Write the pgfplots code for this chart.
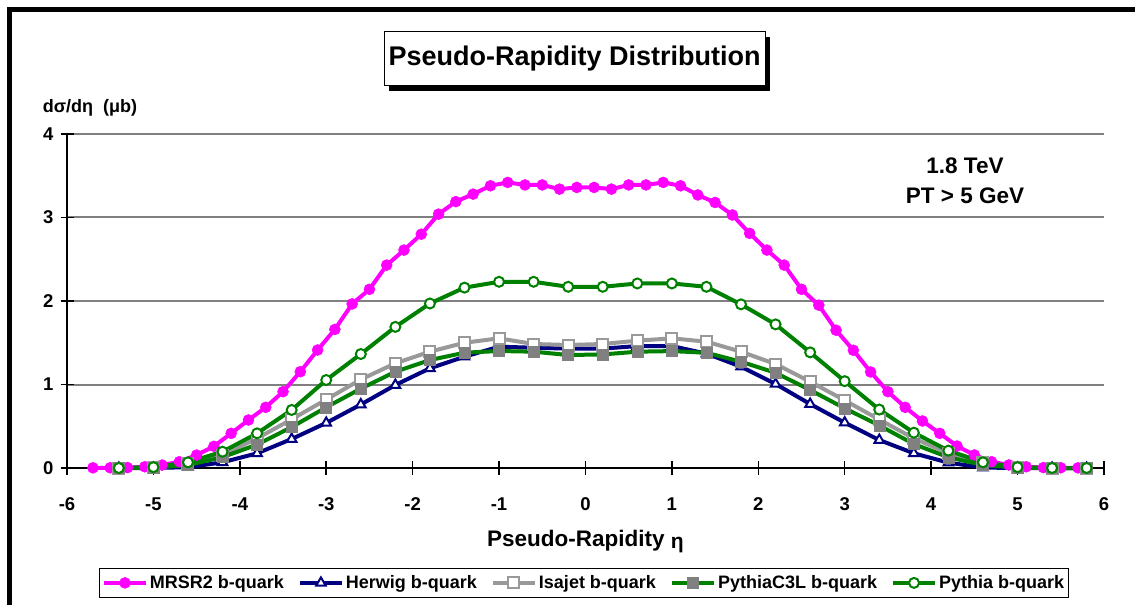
\documentclass[border=0pt]{standalone}
\usepackage{fontspec}
\setmainfont{Liberation Sans}
\usepackage{pgfplots}
\pgfplotsset{compat=1.18}
\usetikzlibrary{shadows}
\definecolor{mag}{RGB}{255,0,255}
\definecolor{navy}{RGB}{0,0,128}
\definecolor{grayS}{RGB}{153,153,153}
\definecolor{grayF}{RGB}{128,128,128}
\definecolor{grn}{RGB}{0,128,0}
\begin{document}
\begin{tikzpicture}[x=1pt,y=1pt]
\useasboundingbox (0,0) rectangle (1135,605);
\draw[line width=5pt] (9.5,0) -- (9.5,595.5) -- (1135,595.5);
\begin{axis}[
  at={(67pt,137pt)}, anchor=south west, scale only axis,
  width=1037pt, height=334pt,
  xmin=-6, xmax=6, ymin=0, ymax=4,
  xtick={-6,-5,-4,-3,-2,-1,0,1,2,3,4,5,6},
  xticklabels={-6,-5,-4,-3,-2,-1,0,1,2,3,4,5,6},
  ytick={0,1,2,3,4}, yticklabels={0,1,2,3,4},
  axis x line*=bottom, axis y line*=left,
  axis line style={line width=1.5pt, black},
  tick style={line width=1.5pt, black},
  tick align=center,
  xtick style={/pgfplots/major tick length=14pt},
  ytick style={/pgfplots/major tick length=13pt},
  ymajorgrids, grid style={line width=2pt, color=grayF},
  ticklabel style={font=\fontsize{18.5}{20}\selectfont\bfseries},
  xticklabel style={yshift=-24pt},
  yticklabel style={xshift=-8pt},
  xlabel={Pseudo-Rapidity {\fontsize{21}{22}\selectfont\raisebox{-2pt}{η}}},
  xlabel style={at={(axis description cs:0.5,-0.22)}, anchor=center, font=\fontsize{22.5}{24}\selectfont\bfseries},
  clip=false,
  legend columns=5,
  legend style={at={(axis description cs:0.4986,-0.344)}, anchor=center,
    draw=black, line width=1pt, font=\fontsize{18}{20}\selectfont\bfseries,
    inner xsep=2pt, inner ysep=5pt,
    /tikz/every even column/.append style={column sep=12pt}},
  legend image code/.code={\draw[mark repeat=2, mark phase=2, #1] plot coordinates {(0pt,0pt) (21pt,0pt) (42pt,0pt)};},
]
\addplot[color=mag, line width=4pt, mark=*, mark size=5.5pt, mark options={fill=mag, draw=mag, line width=0.5pt}] coordinates {
(-5.7,0.002)(-5.5,0.003)(-5.3,0.005)(-5.1,0.015)(-4.9,0.035)(-4.7,0.075)(-4.5,0.155)(-4.3,0.26)(-4.1,0.415)(-3.9,0.575)
(-3.7,0.727)(-3.5,0.914)(-3.3,1.153)(-3.1,1.413)(-2.9,1.66)(-2.7,1.965)(-2.5,2.14)(-2.3,2.43)(-2.1,2.61)(-1.9,2.80)
(-1.7,3.04)(-1.5,3.19)(-1.3,3.28)(-1.1,3.38)(-0.9,3.42)(-0.7,3.39)(-0.5,3.39)(-0.3,3.34)(-0.1,3.36)
(0.1,3.36)(0.3,3.34)(0.5,3.39)(0.7,3.39)(0.9,3.42)(1.1,3.38)(1.3,3.27)(1.5,3.18)(1.7,3.03)(1.9,2.81)
(2.1,2.61)(2.3,2.43)(2.5,2.14)(2.7,1.95)(2.9,1.65)(3.1,1.41)(3.3,1.15)(3.5,0.914)(3.7,0.727)(3.9,0.563)
(4.1,0.415)(4.3,0.263)(4.5,0.156)(4.7,0.075)(4.9,0.036)(5.1,0.015)(5.3,0.005)(5.5,0.003)(5.7,0.002)};
\addlegendentry{MRSR2 b-quark}
\addplot[color=navy, line width=4pt, mark=triangle*, mark size=5.5pt, mark options={fill=white, draw=navy, line width=2pt}] coordinates {
(-5.4,0)(-5.0,0.0)(-4.6,0.01)(-4.2,0.068)(-3.8,0.176)(-3.4,0.347)(-3.0,0.54)(-2.6,0.76)(-2.2,0.994)(-1.8,1.194)
(-1.4,1.333)(-1.0,1.453)(-0.6,1.44)(-0.2,1.43)(0.2,1.43)(0.6,1.46)(1.0,1.46)(1.4,1.37)(1.8,1.213)(2.2,1.006)
(2.6,0.766)(3.0,0.543)(3.4,0.335)(3.8,0.176)(4.2,0.064)(4.6,0.005)(5.0,0)(5.4,0)(5.8,0)};
\addlegendentry{Herwig b-quark}
\addplot[color=grayS, line width=4pt, mark=square*, mark size=5.5pt, mark options={fill=white, draw=grayS, line width=2pt}] coordinates {
(-5.4,0.0)(-5.0,0.005)(-4.6,0.05)(-4.2,0.155)(-3.8,0.355)(-3.4,0.583)(-3.0,0.82)(-2.6,1.06)(-2.2,1.254)(-1.8,1.393)
(-1.4,1.50)(-1.0,1.553)(-0.6,1.485)(-0.2,1.473)(0.2,1.485)(0.6,1.525)(1.0,1.553)(1.4,1.513)(1.8,1.393)(2.2,1.245)
(2.6,1.034)(3.0,0.81)(3.4,0.58)(3.8,0.355)(4.2,0.176)(4.6,0.068)(5.0,0.005)(5.4,0.0)(5.8,0.0)};
\addlegendentry{Isajet b-quark}
\addplot[color=grn, line width=4pt, mark=square*, mark size=5.5pt, mark options={fill=grayF, draw=grayF, line width=0.5pt}] coordinates {
(-5.4,0.0)(-5.0,0.003)(-4.6,0.035)(-4.2,0.13)(-3.8,0.28)(-3.4,0.49)(-3.0,0.727)(-2.6,0.95)(-2.2,1.153)(-1.8,1.293)
(-1.4,1.381)(-1.0,1.401)(-0.6,1.393)(-0.2,1.353)(0.2,1.36)(0.6,1.393)(1.0,1.40)(1.4,1.38)(1.8,1.273)(2.2,1.14)
(2.6,0.934)(3.0,0.715)(3.4,0.51)(3.8,0.287)(4.2,0.128)(4.6,0.036)(5.0,0.003)(5.4,0)(5.8,0)};
\addlegendentry{PythiaC3L b-quark}
\addplot[color=grn, line width=4pt, mark=*, mark size=5pt, mark options={fill=white, draw=grn, line width=2pt}] coordinates {
(-5.4,0.0)(-5.0,0.01)(-4.6,0.068)(-4.2,0.195)(-3.8,0.415)(-3.4,0.695)(-3.0,1.054)(-2.6,1.365)(-2.2,1.69)(-1.8,1.97)
(-1.4,2.16)(-1.0,2.23)(-0.6,2.23)(-0.2,2.17)(0.2,2.17)(0.6,2.21)(1.0,2.21)(1.4,2.17)(1.8,1.96)(2.2,1.72)
(2.6,1.385)(3.0,1.04)(3.4,0.70)(3.8,0.423)(4.2,0.208)(4.6,0.068)(5.0,0.01)(5.4,0.0)(5.8,0.0)};
\addlegendentry{Pythia b-quark}
\end{axis}
\node[draw=black, line width=1pt, fill=white, minimum width=381pt, minimum height=54pt, inner sep=0pt,
  drop shadow={shadow xshift=5pt, shadow yshift=-5pt, opacity=1, fill=black},
  font=\fontsize{27}{30}\selectfont\bfseries] at (574.5,546) {Pseudo-Rapidity Distribution};
\node[font=\fontsize{18}{20}\selectfont\bfseries] at (90,497) {dσ/dη\ \ (μb)};
\node[font=\fontsize{22.5}{24}\selectfont\bfseries, align=center] at (965,424) {1.8 TeV\\[6pt]PT > 5 GeV};
\end{tikzpicture}
\end{document}
